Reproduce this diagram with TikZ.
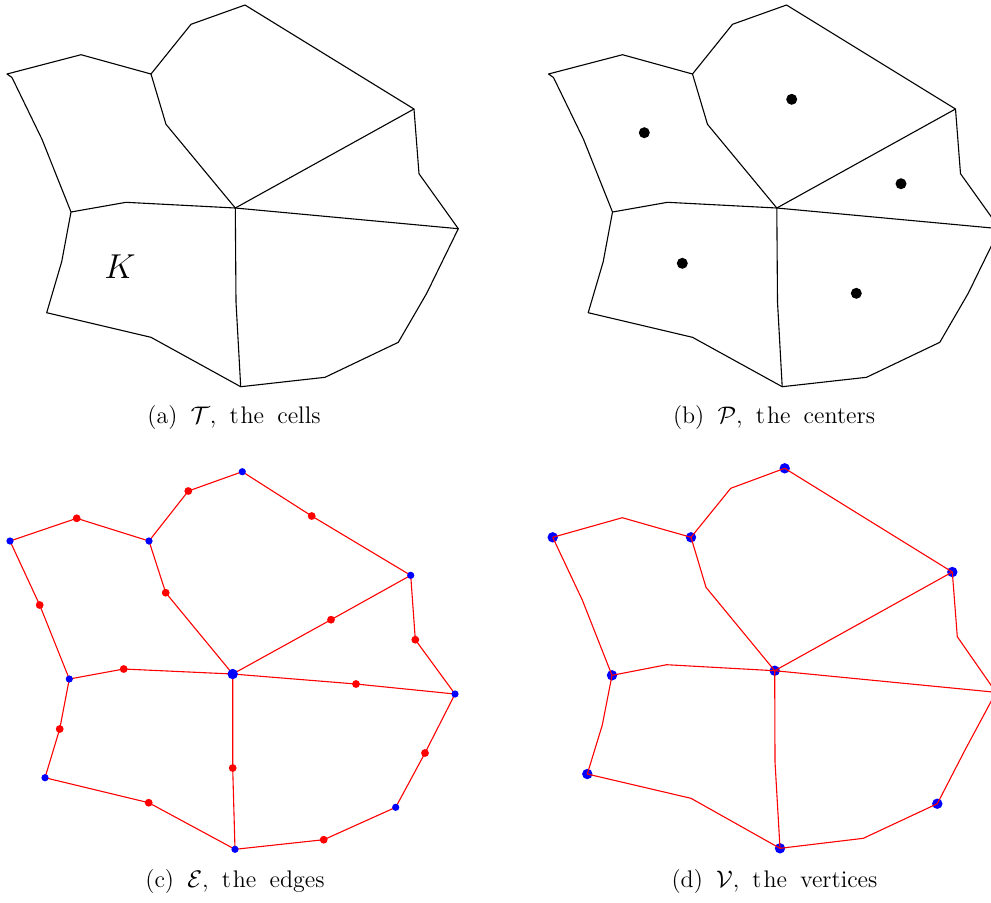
\documentclass[tikz,border=0pt]{standalone}
\usetikzlibrary{calc}
\begin{document}
\begin{tikzpicture}[x=0.5pt,y=-0.5pt,
  cellline/.style={line width=0.55pt,black,line join=round},
  redline/.style={line width=0.55pt,red,line join=round},
  ctrdot/.style={circle,fill=black,inner sep=0pt,minimum size=5.5pt},
  edot/.style={circle,fill=red,inner sep=0pt,minimum size=3.9pt},
  vdot/.style={circle,fill=blue,inner sep=0pt,minimum size=3.6pt},
  bigvdot/.style={circle,fill=blue,inner sep=0pt,minimum size=5.2pt},
  caption/.style={font=\fontsize{12}{14}\selectfont,anchor=base,inner sep=0pt},
  klabel/.style={font=\fontsize{17}{19}\selectfont,inner sep=0pt}]
\useasboundingbox (0,0) rectangle (991,902);
\clip (0,0) rectangle (991,902);
\newcommand\cellmesh[1]{%
  \coordinate (#1A) at (7,74);
  \coordinate (#1Ah) at (12,77.5);
  \coordinate (#1A3) at (42,139.3);
  \coordinate (#1Pn) at (71,212);
  \coordinate (#1B) at (81,54.7);
  \coordinate (#1C) at (151,74);
  \coordinate (#1D) at (191,24.3);
  \coordinate (#1E) at (245,5);
  \coordinate (#1F) at (414,109);
  \coordinate (#1G) at (419,173.7);
  \coordinate (#1H) at (458.3,228.7);
  \coordinate (#1I) at (426.7,293.3);
  \coordinate (#1J) at (398.3,342.3);
  \coordinate (#1K) at (325,377.3);
  \coordinate (#1L) at (240.7,386.7);
  \coordinate (#1M) at (151,337.3);
  \coordinate (#1N) at (46.7,312.7);
  \coordinate (#1O) at (61.7,261.7);
  \coordinate (#1Z) at (235.3,208);
  \coordinate (#1Q) at (126,202.3);
  \coordinate (#1R) at (166,124.3);
  \coordinate (#1S) at (236,302);
  \draw[cellline] (#1A) -- (#1Ah) -- (#1A3) -- (#1Pn) -- (#1O) -- (#1N) -- (#1M)
     -- (#1L) -- (#1K) -- (#1J) -- (#1I) -- (#1H) -- (#1G) -- (#1F) -- (#1E)
     -- (#1D) -- (#1C) -- (#1B) -- cycle;
  \draw[cellline] (#1Pn) -- (#1Q) -- (#1Z) -- (#1S) -- (#1L);
  \draw[cellline] (#1C) -- (#1R) -- (#1Z) -- (#1F);
  \draw[cellline] (#1Z) -- (#1H);
}
% ---------- (a)
\begin{scope}
  \cellmesh{a}
\end{scope}
\node[klabel] (klab) at (120,267) {$K$};
\node[caption] (capa) at (234,423) {(a)\hskip0.55em$\mathcal{T}$,\hskip0.55em t\hskip0.08em he\hskip0.55em cells};
% ---------- (b)
\begin{scope}[shift={(541.5,0)}]
  \cellmesh{b}
\end{scope}
\node[ctrdot] (p1) at (791.7,99.3) {};
\node[ctrdot] (p2) at (644.3,132.7) {};
\node[ctrdot] (p3) at (901,183.7) {};
\node[ctrdot] (p4) at (682.3,263.3) {};
\node[ctrdot] (p5) at (856.3,293.3) {};
\node[caption] (capb) at (774,423) {(b)\hskip0.55em$\mathcal{P}$,\hskip0.55em t\hskip0.08em he\hskip0.55em centers};
% ---------- (c)
\coordinate (cA) at (10,541);
\coordinate (cC) at (149,541);
\coordinate (cE) at (242.3,471.7);
\coordinate (cF) at (410.7,575.3);
\coordinate (cZ) at (232.7,674);
\coordinate (cPn) at (69.3,679);
\coordinate (cH) at (455,694);
\coordinate (cN) at (45,777.7);
\coordinate (cL) at (235,849.3);
\coordinate (cJ) at (395.7,807.3);
\coordinate (cB) at (76.7,518.3);
\coordinate (cD) at (188.3,491);
\coordinate (cEF) at (311.7,516);
\coordinate (cR) at (165.7,592.7);
\coordinate (cZF) at (331,619.7);
\coordinate (cA3) at (39.7,605);
\coordinate (cQ) at (123.7,669);
\coordinate (cZH) at (356,684);
\coordinate (cG) at (415.3,639.7);
\coordinate (cO) at (59.7,729);
\coordinate (cM) at (148.7,802.7);
\coordinate (cZL) at (232.7,768);
\coordinate (cK) at (323.7,839.7);
\coordinate (cI) at (425,753);
\draw[redline] (cA) -- (cB) -- (cC) -- (cD) -- (cE) -- (cEF) -- (cF) -- (cG) -- (cH)
   -- (cI) -- (cJ) -- (cK) -- (cL) -- (cM) -- (cN) -- (cO) -- (cPn) -- (cA3) -- (cA);
\draw[redline] (cC) -- (cR) -- (cZ) -- (cZF) -- (cF);
\draw[redline] (cPn) -- (cQ) -- (cZ) -- (cZH) -- (cH);
\draw[redline] (cZ) -- (cZL) -- (cL);
\foreach \p in {B,D,EF,R,ZF,A3,Q,ZH,G,O,M,ZL,K,I}
  \node[edot] (ce\p) at (c\p) {};
\foreach \p in {A,C,E,F,Pn,H,N,L,J}
  \node[vdot] (cv\p) at (c\p) {};
\node[bigvdot] (cvZ) at (cZ) {};
\node[caption] (capc) at (235,887.5) {(c)\hskip0.55em$\mathcal{E}$,\hskip0.55em t\hskip0.08em he\hskip0.55em edges};
% ---------- (d)
\coordinate (dA) at (552.7,537.3);
\coordinate (dC) at (691,537.3);
\coordinate (dE) at (784.7,468.3);
\coordinate (dF) at (952.3,572);
\coordinate (dZ) at (774.7,670.7);
\coordinate (dPn) at (612,675.3);
\coordinate (dH) at (996,692.3);
\coordinate (dN) at (587.3,774);
\coordinate (dL) at (780,848.3);
\coordinate (dJ) at (937.3,803.7);
\coordinate (dB) at (622.3,517.7);
\coordinate (dD) at (730.7,488.3);
\coordinate (dR) at (706,587.3);
\coordinate (dA3) at (582.3,600);
\coordinate (dQ) at (666.7,664.7);
\coordinate (dG) at (957.3,636.7);
\coordinate (dO) at (602.3,725);
\coordinate (dM) at (691,798.3);
\coordinate (dS) at (775,761.7);
\coordinate (dK) at (863.3,838.3);
\coordinate (dI) at (965,750);
\foreach \p in {A,C,E,F,Z,Pn,H,N,L,J}
  \node[bigvdot] (dv\p) at (d\p) {};
\draw[redline] (dA) -- (dB) -- (dC) -- (dD) -- (dE) -- (dF) -- (dG) -- (dH)
   -- (dI) -- (dJ) -- (dK) -- (dL) -- (dM) -- (dN) -- (dO) -- (dPn) -- (dA3) -- (dA);
\draw[redline] (dC) -- (dR) -- (dZ) -- (dF);
\draw[redline] (dPn) -- (dQ) -- (dZ) -- (dH);
\draw[redline] (dZ) -- (dS) -- (dL);
\node[caption] (capd) at (774.5,887.5) {(d)\hskip0.55em$\mathcal{V}$,\hskip0.55em t\hskip0.08em he\hskip0.55em vertices};
\end{tikzpicture}
\end{document}
